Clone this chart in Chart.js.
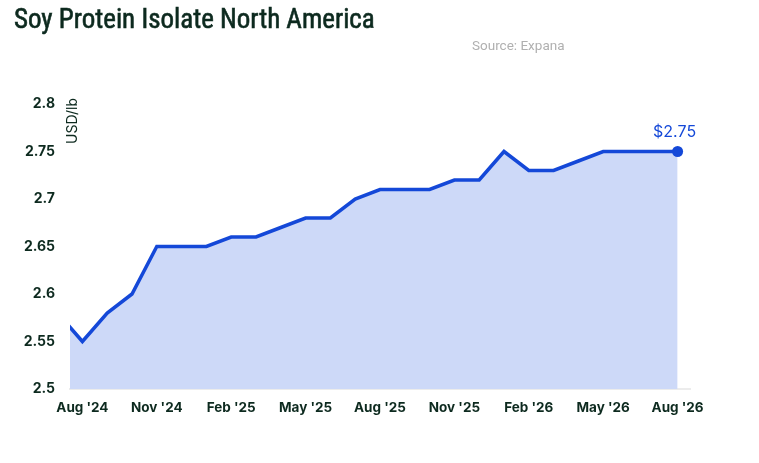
<!DOCTYPE html>
<html>
<head>
<meta charset="utf-8">
<script src="https://cdn.jsdelivr.net/npm/chart.js@4.4.1/dist/chart.umd.min.js"></script>
<style>
  html, body { margin:0; padding:0; background:#fff; }
  #wrap { position:relative; width:759px; height:463px; overflow:hidden; }
  #titulo { position:absolute; left:14px; top:3px; font-family:"Liberation Sans Narrow","Roboto Condensed","DejaVu Sans Condensed",sans-serif; font-size:27px; color:#0d2a1f; white-space:nowrap; -webkit-text-stroke:0.6px #0d2a1f; }
  #fuente { position:absolute; left:472px; top:37px; font-family:Roboto,sans-serif; font-size:13.5px; color:#b0b0b0; white-space:nowrap; }
  #grafico { position:absolute; left:0; top:0; }
</style>
</head>
<body>
<div id="wrap">
  <canvas id="grafico" width="759" height="463"></canvas>
  <div id="titulo">Soy Protein Isolate North America</div>
  <div id="fuente">Source: Expana</div>
</div>
<script>
// meses (indice 0 = Aug '24, -1 = Jul '24 que queda cortado a la izquierda)
var meses = ["Jul '24","Aug '24","Sep '24","Oct '24","Nov '24","Dec '24","Jan '25","Feb '25","Mar '25","Apr '25","May '25","Jun '25","Jul '25",
             "Aug '25","Sep '25","Oct '25","Nov '25","Dec '25","Jan '26","Feb '26","Mar '26","Apr '26","May '26","Jun '26","Jul '26","Aug '26"];
var precios = [2.58,2.55,2.58,2.60,2.65,2.65,2.65,2.66,2.66,2.67,2.68,2.68,2.70,
               2.71,2.71,2.71,2.72,2.72,2.75,2.73,2.73,2.74,2.75,2.75,2.75,2.75];
var ticksX = [0,3,6,9,12,15,18,21,24];
var ticksY = [2.5,2.55,2.6,2.65,2.7,2.75,2.8];

var azul = "#1448d8";
var oscuro = "#0d2a1f";

var puntos = [];
for (let i = 0; i < precios.length; i++) {
    puntos.push({x: i - 1, y: precios[i]});
}
var ultimo = puntos.length - 1;

var extras = {
    id: "extras",
    afterDatasetsDraw(chart) {
        const ctx = chart.ctx;
        const p = chart.getDatasetMeta(0).data[ultimo];
        ctx.save();
        ctx.fillStyle = azul;
        ctx.font = "16px Inter, sans-serif";
        ctx.textAlign = "center";
        ctx.textBaseline = "alphabetic";
        ctx.fillText("$" + precios[ultimo].toFixed(2), p.x - 3, p.y - 15);
        // unidad
        ctx.fillStyle = oscuro;
        ctx.font = "14px Inter, sans-serif";
        ctx.translate(chart.chartArea.left + 3, chart.chartArea.top - 6);
        ctx.rotate(-Math.PI / 2);
        ctx.textAlign = "right";
        ctx.textBaseline = "middle";
        ctx.fillText("USD/lb", 0, 0);
        ctx.restore();
    }
};

var chart = new Chart(document.getElementById("grafico").getContext("2d"), {
    type: "line",
    data: {
        datasets: [{
            data: puntos,
            borderColor: azul,
            borderWidth: 3.5,
            backgroundColor: "#cdd9f8",
            fill: "start",
            tension: 0,
            clip: {left: 0, top: false, right: false, bottom: 0},
            pointRadius: (c) => c.dataIndex === ultimo ? 5.5 : 0,
            pointBackgroundColor: azul,
            pointBorderWidth: 0
        }]
    },
    options: {
        responsive: false,
        animation: false,
        layout: { padding: { top: 104, right: 69, bottom: 34, left: 0 } },
        plugins: { legend: { display: false }, tooltip: { enabled: false } },
        scales: {
            x: {
                type: "linear",
                min: -0.5,
                max: 24.5,
                afterBuildTicks: (s) => { s.ticks = ticksX.map(v => ({value: v})); },
                afterFit: (s) => { s.height = 40; },
                grid: { display: false, drawTicks: false },
                border: { display: true, color: "#ececec", width: 2 },
                ticks: {
                    padding: 11,
                    color: oscuro,
                    font: { family: "Inter", size: 13.5, weight: "700" },
                    maxRotation: 0,
                    autoSkip: false,
                    callback: (v) => meses[v + 1]
                }
            },
            y: {
                min: 2.5,
                max: 2.8,
                afterBuildTicks: (s) => { s.ticks = ticksY.map(v => ({value: v})); },
                afterFit: (s) => { s.width = 70; },
                grid: { display: false, drawTicks: false },
                border: { display: false },
                ticks: {
                    padding: 15,
                    color: oscuro,
                    font: { family: "Inter", size: 14, weight: "700" },
                    callback: (v) => String(Math.round(v * 100) / 100)
                }
            }
        }
    },
    plugins: [extras]
});
</script>
</body>
</html>
